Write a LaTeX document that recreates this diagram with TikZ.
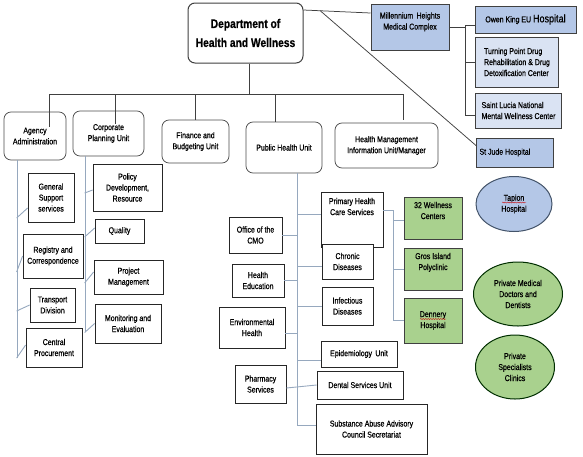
\documentclass[tikz,border=0pt]{standalone}
\usepackage{fontspec}
\setmainfont[FakeStretch=0.82,FakeBold=0.6]{Liberation Sans}
\usetikzlibrary{shapes.geometric,calc,decorations.pathmorphing}
\definecolor{hospblue}{RGB}{180,199,231}
\definecolor{paleblue}{RGB}{218,227,243}
\definecolor{wellgreen}{RGB}{169,209,142}
\definecolor{linkgrey}{RGB}{150,168,190}
\definecolor{ovalrim}{RGB}{68,84,106}
\tikzset{every picture/.style={line width=0.75pt}}
\tikzset{
unit/.style={draw=black!70, rounded corners=7pt, fill=white, align=center, inner sep=1pt, font=\fontsize{8.5}{11}\selectfont},
sub/.style={draw=black!85, fill=white, align=center, inner sep=1pt, font=\fontsize{8.5}{11}\selectfont},
hosp/.style={draw=black!75, fill=hospblue, line width=1pt, inner sep=3pt, font=\fontsize{8.5}{11}\selectfont},
palehosp/.style={hosp, fill=paleblue},
wellbox/.style={draw=black!75, fill=wellgreen, line width=1pt, align=center, inner sep=1pt, font=\fontsize{8.5}{11}\selectfont},
oval/.style={ellipse, draw=ovalrim, line width=1pt, align=center, inner sep=0pt, font=\fontsize{8.5}{11}\selectfont},
bus/.style={draw=black!75},
twig/.style={draw=linkgrey, line width=0.9pt},
squiggle/.style={draw=red!80!black, line width=0.4pt, decorate, decoration={snake, amplitude=0.5pt, segment length=2.5pt}}
}

\begin{document}
\begin{tikzpicture}[x=1pt,y=1pt,yscale=-1,xscale=1]
\useasboundingbox (0,0) rectangle (583,456);
% note: yscale=-1, so a positive yshift goes down the page

%Shape: Rounded Rectangle [id:dept]
\node[unit, draw=black!75, line width=1pt, minimum width=115, minimum height=60, font=\fontsize{12.5}{19}\selectfont\bfseries] (dept) at (245.5,33) {Department of\\Health and Wellness};

% Units
\node[unit, minimum width=62, minimum height=48] (agency) at (35,136) {Agency\\Administration};
\node[unit, minimum width=71, minimum height=45] (corporate) at (108.5,133.5) {Corporate\\Planning Unit};
\node[unit, minimum width=67, minimum height=43] (finance) at (195.5,141.5) {Finance and\\Budgeting Unit};
\node[unit, minimum width=76, minimum height=51] (public) at (284,147.5) {Public Health Unit};
\node[unit, minimum width=103, minimum height=45] (hmiu) at (386.5,145.5) {Health Management\\Information Unit/Manager};

% Hospitals
\node[hosp, minimum width=78, minimum height=46, align=center] (millennium) at (410,27) {Millennium\, Heights\\Medical Complex\\[1pt]\mbox{}};
\node[hosp, minimum width=101, minimum height=27, align=center] (owen) at (525.5,19.5) {Owen King EU {\fontsize{11}{11}\selectfont Hospital}};
\node[palehosp, minimum width=83, minimum height=50, align=left, anchor=west] (turning) at (475,62) {Turning Point Drug\\Rehabilitation \& Drug\\Detoxification Center};
\node[palehosp, minimum width=86, minimum height=35, align=left, anchor=west] (stlucia) at (475,110.5) {Saint Lucia National\\Mental Wellness Center};
\node[hosp, minimum width=70, minimum height=29, align=left, anchor=west] (stjude) at (476,152.5) {St Jude Hospital\hspace{20pt}};

% Agency Administration list
\node[sub, minimum width=46, minimum height=49] (support) at (51,197.5) {General\\Support\\services};
\node[sub, minimum width=60, minimum height=44] (registry) at (53,256) {Registry and\\Correspondence};
\node[sub, minimum width=45, minimum height=34] (transport) at (52.5,305) {Transport\\Division};
\node[sub, minimum width=56, minimum height=39] (procurement) at (54,347.5) {Central\\Procurement};

% Corporate Planning list
\node[sub, minimum width=69, minimum height=47] (policy) at (127.5,187.5) {Policy\\Development,\\Resource};
\node[sub, minimum width=49, minimum height=24] (quality) at (119.5,231) {Quality};
\node[sub, minimum width=69, minimum height=34] (project) at (128.5,277) {Project\\Management};
\node[sub, minimum width=66, minimum height=39] (monitoring) at (128,323.5) {Monitoring and\\Evaluation};

% Public Health, left side
\node[sub, minimum width=53, minimum height=36] (cmo) at (255.5,235) {Office of the\\CMO};
\node[sub, minimum width=52, minimum height=33] (education) at (258,280.5) {Health\\Education};
\node[sub, minimum width=66, minimum height=41] (environment) at (252,327.5) {Environmental\\Health};
\node[sub, minimum width=51, minimum height=38] (pharmacy) at (260.5,384) {Pharmacy\\Services};

% Public Health, right side
\node[sub, minimum width=62, minimum height=55] (primary) at (352,219.5) {Primary Health\\Care Services\\[15pt]\mbox{}};
\node[sub, minimum width=51, minimum height=35] (chronic) at (347.5,261.5) {Chronic\\Diseases};
\node[sub, minimum width=51, minimum height=38] (infectious) at (347.5,306) {Infectious\\Diseases};
\node[sub, minimum width=76, minimum height=26] (epidemiology) at (359,354) {Epidemiology\, Unit};
\node[sub, minimum width=86, minimum height=28] (dental) at (360,385) {Dental Services Unit};
\node[sub, minimum width=111, minimum height=50] (substance) at (371.5,429) {Substance Abuse Advisory\\Council Secretariat};

% Primary care facilities
\node[wellbox, minimum width=58, minimum height=42] (wellness) at (433,218) {32 Wellness\\Centers\\[4pt]\mbox{}};
\node[wellbox, minimum width=58, minimum height=42] (gros) at (433,269) {Gros Island\\Polyclinic\\[4pt]\mbox{}};
\node[wellbox, minimum width=58, minimum height=45] (dennery) at (433,320.5) {Dennery\\Hospital};

% Ovals
\node[oval, fill=hospblue, minimum width=76, minimum height=55] (tapion) at (514,204) {Tapion\\Hospital};
\node[oval, fill=wellgreen, draw=black!70!green!60!black, minimum width=89, minimum height=64] (doctors) at (518,294) {Private Medical\\Doctors and\\Dentists};
\node[oval, fill=wellgreen, draw=black!70!green!60!black, minimum width=79, minimum height=64] (specialists) at (515,367) {Private\\Specialists\\Clinics};

% spell-check marks
\draw[squiggle] ([xshift=-12pt,yshift=-1.5pt]tapion.center) -- ++(24,0);
\draw[squiggle] ([xshift=-13pt,yshift=-1.5pt]dennery.center) -- ++(26,0);

%Straight Lines: main bus
\coordinate (bus) at (0,94);
\draw[bus] ([xshift=3.5pt]dept.south) -- ([xshift=3.5pt]dept.south |- bus);
\draw[bus] ([xshift=14pt]agency.north |- bus) -- ([xshift=16.5pt]hmiu.north |- bus);
\draw[bus] ([xshift=14pt]agency.north |- bus) -- ([xshift=14pt,yshift=-9pt]agency.center);
\draw[bus] ([xshift=6.5pt]corporate.north |- bus) -- ([xshift=6.5pt,yshift=-10pt]corporate.center);
\draw[bus] (finance.north |- bus) -- (finance.north);
\draw[bus] ([xshift=-9pt]public.north |- bus) -- ([xshift=-9pt]public.north);
\draw[bus] ([xshift=16.5pt]hmiu.north |- bus) -- ([xshift=16.5pt,yshift=-3pt]hmiu.north);

%Straight Lines: hospitals
\coordinate (djoin) at ($([yshift=-23pt]dept.east)!0.25!([yshift=-14pt]millennium.west)$);
\draw[bus] ([yshift=-23pt]dept.east) -- ([yshift=-14pt]millennium.west);
\draw[bus] (djoin) -- ([yshift=-7pt]stjude.west);
\coordinate (mtrunk) at ([xshift=16pt]millennium.east);
\draw[bus] (millennium.east) -- (mtrunk);
\draw[bus] ([yshift=5.5pt]owen.west) -- ([yshift=5.5pt]owen.west -| mtrunk) -- ([yshift=4.5pt]stlucia.west -| mtrunk) -- ([yshift=4.5pt]stlucia.west);
\draw[bus] (turning.west) -- (turning.west -| mtrunk);

%Straight Lines: Agency Administration
\draw[twig] ([xshift=-18pt]agency.south) -- ([xshift=-18pt]agency.south |- 0,358);
\draw[twig] ([yshift=10.5pt]support.west) -- +(-11,10);
\draw[twig] (registry.west) -- +(-6,16);
\draw[twig] (transport.west) -- +(-13,6);
\draw[twig] ([yshift=-2.5pt]procurement.west) -- +(-9,13);

%Straight Lines: Corporate Planning
\draw[twig] ([xshift=-23.5pt]corporate.south) -- ([xshift=-23.5pt]corporate.south |- 0,332);
\draw[twig] ([yshift=2.5pt]policy.west) -- +(-8,3);
\draw[twig] ([yshift=-3pt]quality.west) -- +(-10,9);
\draw[twig] ([yshift=-5pt]project.west) -- +(-9,11);
\draw[twig] (monitoring.west) -- +(-10,9);

%Straight Lines: Public Health
\coordinate (ptrunk) at ([xshift=13pt]public.south);
\draw[twig] (ptrunk) -- (ptrunk |- 0,425);
\draw[twig] (cmo.east) -- (cmo.east -| ptrunk);
\draw[twig] (education.east) -- (education.east -| ptrunk);
\draw[twig] ([yshift=5.5pt]environment.east) -- ([yshift=5.5pt]environment.east -| ptrunk);
\draw[twig] ([yshift=4pt]pharmacy.east) -- (dental.west);
\draw[twig] ([yshift=-5.5pt]primary.west) -- ([yshift=-5.5pt]primary.west -| ptrunk);
\draw[twig] ([yshift=4.5pt]chronic.west) -- ([yshift=4.5pt]chronic.west -| ptrunk);
\draw[twig] (infectious.west) -- (infectious.west -| ptrunk);
\draw[twig] ([yshift=6pt]epidemiology.west) -- ([yshift=6pt]epidemiology.west -| ptrunk);
\draw[twig] ([yshift=-4pt]substance.west) -- ([yshift=-4pt]substance.west -| ptrunk);

%Straight Lines: Primary care facilities
\coordinate (gtrunk) at ([xshift=10pt,yshift=-9.5pt]primary.east);
\draw[twig] ([yshift=-9.5pt]primary.east) -- (gtrunk) -- (gtrunk |- dennery.west) -- (dennery.west);
\draw[twig] ([yshift=2pt]wellness.west) -- ([yshift=2pt]wellness.west -| gtrunk);
\draw[twig] (gros.west) -- (gros.west -| gtrunk);
\end{tikzpicture}
\end{document}
